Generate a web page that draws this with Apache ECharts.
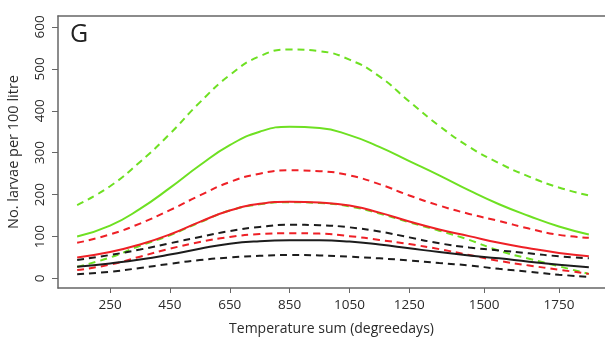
<!DOCTYPE html>
<html lang="en">
<head>
    <meta http-equiv="Content-Type" content="text/html; charset=UTF-8">
    <title>Larvae vs temperature sum</title>
    <script type="text/javascript" src="https://cdn.jsdelivr.net/npm/echarts@6/dist/echarts.min.js"></script>
    <style>
        html, body { margin: 0; padding: 0; background: #fff; }
        #chart { width: 605px; height: 340px; }
    </style>
</head>
<body>
<div id="chart"></div>
<script type="text/javascript">
    // temperature sum (degreedays)
    var tempSum = [140, 250, 350, 450, 550, 650, 750, 850, 950, 1050, 1150, 1250, 1350, 1450, 1550, 1650, 1750, 1850];

    var greenUpper = [175, 220, 278, 345, 420, 485, 530, 546, 542, 522, 482, 422, 364, 314, 275, 243, 217, 198];
    var greenMid   = [100, 126, 166, 216, 270, 318, 350, 362, 359, 342, 314, 280, 246, 210, 177, 149, 124, 105];
    var greenLower = [28, 50, 78, 103, 134, 162, 177, 182, 180, 172, 155, 134, 114, 92, 66, 47, 29, 11];
    var redUpper   = [85, 105, 131, 163, 198, 230, 250, 258, 256, 246, 225, 198, 174, 154, 137, 119, 104, 97];
    var redMid     = [50, 63, 81, 105, 135, 162, 178, 183, 181, 174, 157, 136, 117, 101, 85, 72, 61, 53];
    var redLower   = [20, 33, 52, 71, 87, 99, 106, 108, 107, 101, 92, 82, 70, 56, 42, 31, 21, 11];
    var blackUpper = [44, 56, 69, 84, 99, 113, 123, 128, 127, 122, 112, 98, 84, 74, 67, 60, 53, 48];
    var blackMid   = [28, 36, 45, 57, 71, 83, 89, 91, 91, 88, 81, 72, 63, 55, 48, 40, 33, 27];
    var blackLower = [10, 16, 25, 35, 44, 50, 54, 56, 55, 52, 48, 43, 37, 31, 23, 16, 9, 4];

    var xTicks = [250, 450, 650, 850, 1050, 1250, 1500, 1750];
    var yTicks = [0, 100, 200, 300, 400, 500, 600];

    var GREEN = '#6ee022', RED = '#ee2026', BLACK = '#1c1c1c';
    var FONT = 'Open Sans';
    var AXIS_COLOR = '#666';

    function pairs(vals) {
        return tempSum.map(function (t, i) { return [t, vals[i]]; });
    }

    function curve(name, vals, color, dashed) {
        return {
            name: name,
            type: 'line',
            data: pairs(vals),
            smooth: 0.5,
            showSymbol: false,
            silent: true,
            lineStyle: { color: color, width: 2, type: dashed ? [7, 5] : 'solid' }
        };
    }

    var myChart = echarts.init(document.getElementById('chart'));

    myChart.setOption({
        animation: false,
        title: {
            text: 'G',
            left: 65,
            top: 17,
            textStyle: { fontFamily: FONT, fontSize: 25, fontWeight: 'normal', color: '#222' }
        },
        grid: {
            left: 58, top: 16, right: 0, bottom: 52,
            outerBoundsMode: 'none',
            containLabel: false
        },
        xAxis: [{
            type: 'value',
            min: 76, max: 1904,
            name: 'Temperature sum (degreedays)',
            nameLocation: 'middle',
            nameGap: 34,
            nameTextStyle: { fontFamily: FONT, fontSize: 14, color: '#2a2a2a' },
            axisLine: { show: true, onZero: false, lineStyle: { color: AXIS_COLOR, width: 1.5 } },
            axisTick: { show: true, length: 5, lineStyle: { color: AXIS_COLOR }, customValues: xTicks },
            axisLabel: {
                fontFamily: FONT, fontSize: 13.5, color: '#2a2a2a', margin: 10, customValues: xTicks,
                formatter: function (v) { return String(v); }
            },
            splitLine: { show: false }
        }, {
            // top frame line only
            type: 'value',
            position: 'top',
            min: 76, max: 1904,
            axisLine: { show: true, onZero: false, lineStyle: { color: AXIS_COLOR, width: 1.5 } },
            axisTick: { show: false },
            axisLabel: { show: false },
            splitLine: { show: false }
        }],
        yAxis: {
            type: 'value',
            min: -22.7, max: 626,
            name: 'No. larvae per 100 litre',
            nameLocation: 'middle',
            nameGap: 37,
            nameTextStyle: { fontFamily: FONT, fontSize: 14.5, color: '#2a2a2a' },
            axisLine: { show: true, onZero: false, lineStyle: { color: AXIS_COLOR, width: 1.5 } },
            axisTick: { show: true, length: 6, lineStyle: { color: AXIS_COLOR }, customValues: yTicks },
            axisLabel: {
                fontFamily: FONT, fontSize: 13.5, color: '#2a2a2a', margin: 11, rotate: 90, customValues: yTicks,
                formatter: function (v) { return String(v); }
            },
            splitLine: { show: false }
        },
        series: [
            curve('green upper', greenUpper, GREEN, true),
            curve('green', greenMid, GREEN, false),
            curve('green lower', greenLower, GREEN, true),
            curve('red upper', redUpper, RED, true),
            curve('red', redMid, RED, false),
            curve('red lower', redLower, RED, true),
            curve('black upper', blackUpper, BLACK, true),
            curve('black', blackMid, BLACK, false),
            curve('black lower', blackLower, BLACK, true)
        ]
    });
</script>
</body>
</html>
